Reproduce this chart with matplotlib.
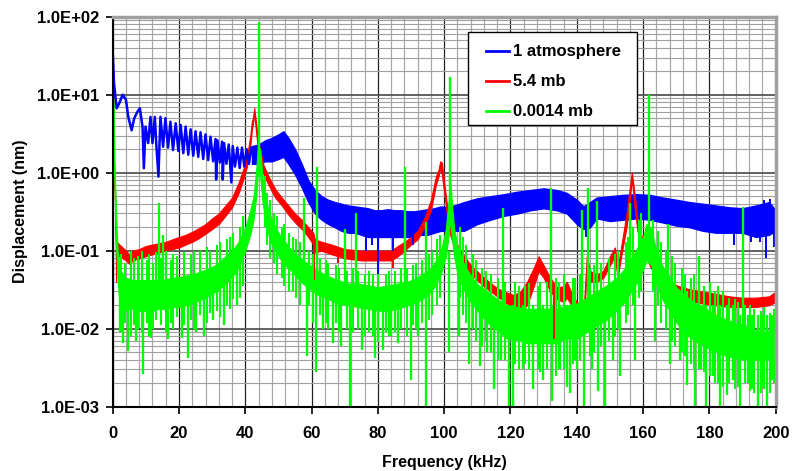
import matplotlib.pyplot as plt
import matplotlib.ticker as mticker
from matplotlib.lines import Line2D
from matplotlib.patches import Rectangle

plt.rcParams['font.family'] = ['Liberation Sans', 'DejaVu Sans']
plt.rcParams['font.weight'] = 'bold'

# ---- 1 atmosphere: low-frequency part read as a single line
blue_lf_f = [0, 0.4, 1.2, 2.0, 3.0, 4.0, 4.7, 5.7, 6.5, 7.4, 8.2, 9.0, 9.4, 9.9,
             10.7, 11.4, 12.0, 12.7, 13.2, 13.8, 14.4, 15.2, 15.9, 16.7, 17.4, 18.2,
             19.0, 19.8, 20.5, 21.3, 22.0, 22.8, 23.5, 24.3, 25.0, 25.8, 26.5, 27.3,
             28.0, 28.8, 29.5, 30.3, 31.0, 31.2, 31.6, 32.3, 33.0, 33.2, 33.6, 34.3,
             35.0, 35.8, 36.2, 36.9, 37.6, 38.3, 39.0, 39.7, 40.4, 41.1, 41.8, 42.5]
blue_lf_v = [35, 14, 6.7, 7.8, 10, 8.6, 5.2, 3.5, 5.0, 6.0, 6.7, 3.9, 1.14, 3.9,
             2.4, 5.2, 2.4, 5.2, 2.15, 0.89, 5.2, 2.15, 5.0, 2.1, 4.5, 1.95,
             4.3, 1.9, 4.1, 1.78, 3.9, 1.7, 3.6, 1.65, 3.4, 1.6, 3.3, 1.5,
             3.1, 1.45, 2.9, 1.4, 2.7, 0.82, 2.6, 1.35, 2.5, 0.82, 2.4, 1.3,
             2.3, 0.75, 2.2, 1.2, 2.1, 1.15, 2.1, 1.2, 2.0, 1.3, 2.1, 1.6]

# ---- 1 atmosphere: dense band above 42 kHz (lower / upper edge)
blue_f = [42, 44, 46, 48, 50, 51.5, 53, 55, 57, 59, 61, 63, 65, 67, 69, 71, 73, 75,
          77, 79, 81, 83, 85, 87, 89, 91, 93, 95, 97, 99, 101, 103, 106, 110, 114,
          118, 122, 126, 130, 134, 137, 140, 142, 144, 146, 150, 154, 158, 162, 166,
          170, 174, 178, 182, 186, 190, 194, 198, 200]
blue_lo = [1.3, 1.3, 1.4, 1.4, 1.5, 1.6, 1.3, 0.95, 0.65, 0.42, 0.3, 0.25, 0.22, 0.2,
           0.18, 0.17, 0.17, 0.16, 0.15, 0.15, 0.15, 0.15, 0.15, 0.15, 0.15, 0.15,
           0.16, 0.16, 0.17, 0.18, 0.18, 0.18, 0.18, 0.22, 0.25, 0.28, 0.3, 0.33,
           0.35, 0.33, 0.3, 0.22, 0.19, 0.2, 0.26, 0.24, 0.25, 0.26, 0.25, 0.23,
           0.21, 0.2, 0.18, 0.17, 0.17, 0.17, 0.15, 0.16, 0.18]
blue_hi = [2.2, 2.3, 2.6, 2.8, 3.1, 3.4, 2.8, 2.0, 1.3, 0.8, 0.6, 0.5, 0.45, 0.42,
           0.4, 0.38, 0.37, 0.36, 0.35, 0.33, 0.33, 0.34, 0.33, 0.33, 0.32, 0.32,
           0.33, 0.34, 0.35, 0.37, 0.36, 0.38, 0.42, 0.47, 0.5, 0.53, 0.57, 0.6,
           0.63, 0.6, 0.55, 0.45, 0.37, 0.42, 0.48, 0.5, 0.52, 0.53, 0.52, 0.48,
           0.45, 0.42, 0.4, 0.38, 0.36, 0.35, 0.38, 0.42, 0.33]
blue_spk_f = [76.5, 78.3, 80.0, 84.5, 90.5, 142.8, 187.5, 192.5, 195.3, 196.5, 197.2, 198.2, 199.6]
blue_spk_lo = [0.10, 0.12, 0.029, 0.10, 0.12, 0.15, 0.12, 0.13, 0.13, 0.3, 0.08, 0.3, 0.11]
blue_spk_hi = [0.2, 0.2, 0.2, 0.2, 0.2, 0.3, 0.2, 0.2, 0.2, 0.45, 0.2, 0.46, 0.2]

# ---- 5.4 mb (lower / upper edge of trace)
red_f = [0, 0.4, 0.8, 1.0, 1.3, 2, 3, 4, 5, 6, 8, 10, 12, 14, 16, 18, 20, 22, 24, 26,
         28, 30, 32, 34, 36, 38, 39.5, 40.5, 41.5, 42, 42.3, 42.7, 43.2, 43.7, 44.5,
         45.5, 47, 49, 51, 53, 55, 57, 59, 60.5, 61, 63, 66, 70, 75, 80, 84, 86, 88,
         90, 92, 94, 96, 97.5, 98.3, 98.8, 99.3, 100, 100.8, 101.8, 103, 105, 108,
         112, 116, 119, 121, 123, 125, 127, 128.5, 130, 132, 134, 136, 137, 139, 141,
         142, 143, 144, 146, 148, 150, 151.5, 152.3, 153.5, 155, 156, 156.6, 157.3,
         158.3, 160, 162, 164, 167, 170, 174, 178, 182, 186, 190, 194, 198, 200]
red_lo = [25, 1.0, 0.3, 0.04, 0.09, 0.085, 0.08, 0.075, 0.068, 0.075, 0.08, 0.085,
          0.09, 0.095, 0.1, 0.105, 0.11, 0.12, 0.13, 0.145, 0.165, 0.19, 0.22, 0.28,
          0.36, 0.55, 0.85, 1.2, 2.2, 3.6, 4.2, 5.8, 3.5, 2.2, 1.4, 0.95, 0.7, 0.48,
          0.38, 0.29, 0.23, 0.19, 0.15, 0.12, 0.095, 0.1, 0.09, 0.08, 0.075, 0.075,
          0.075, 0.085, 0.1, 0.12, 0.14, 0.2, 0.33, 0.7, 0.9, 1.15, 0.95, 0.55, 0.3,
          0.16, 0.11, 0.08, 0.05, 0.035, 0.026, 0.021, 0.018, 0.017, 0.02, 0.035,
          0.055, 0.045, 0.03, 0.024, 0.022, 0.025, 0.018, 0.015, 0.009, 0.06, 0.04,
          0.04, 0.045, 0.065, 0.085, 0.045, 0.09, 0.2, 0.45, 0.85, 0.4, 0.18, 0.1,
          0.065, 0.045, 0.034, 0.027, 0.023, 0.021, 0.02, 0.019, 0.019, 0.019, 0.02,
          0.022]
red_hi = [32, 1.4, 0.45, 0.12, 0.13, 0.12, 0.11, 0.1, 0.09, 0.1, 0.105, 0.115,
          0.12, 0.125, 0.13, 0.14, 0.15, 0.16, 0.175, 0.195, 0.22, 0.26, 0.3, 0.38,
          0.48, 0.75, 1.15, 1.6, 3.0, 4.6, 5.0, 6.8, 4.5, 3.0, 1.9, 1.25, 0.9, 0.62,
          0.48, 0.38, 0.3, 0.25, 0.2, 0.17, 0.14, 0.13, 0.12, 0.105, 0.1, 0.1,
          0.1, 0.115, 0.13, 0.15, 0.18, 0.26, 0.45, 0.9, 1.1, 1.4, 1.35, 0.75, 0.4,
          0.21, 0.14, 0.1, 0.065, 0.045, 0.033, 0.029, 0.027, 0.03, 0.04, 0.06,
          0.085, 0.065, 0.045, 0.034, 0.035, 0.04, 0.025, 0.02, 0.015, 0.085, 0.055,
          0.05, 0.055, 0.085, 0.11, 0.06, 0.12, 0.3, 0.65, 1.0, 0.6, 0.25, 0.13,
          0.085, 0.06, 0.045, 0.036, 0.032, 0.03, 0.028, 0.026, 0.025, 0.025, 0.026,
          0.03]
red_spk_f = [60.7, 68.0, 84.6, 124.5, 133.0]
red_spk_lo = [0.042, 0.07, 0.06, 0.012, 0.0073]
red_spk_hi = [0.12, 0.1, 0.09, 0.025, 0.03]

# ---- 0.0014 mb: dense core of the noisy trace
green_f = [0, 0.3, 0.6, 1.0, 1.5, 2, 3, 4, 6, 8, 10, 12, 14, 16, 18, 20, 22, 24,
           26, 28, 30, 32, 34, 36, 38, 40, 41.5, 42.5, 43.3, 43.8, 44.5, 45.2, 46, 47,
           48, 50, 52, 54, 56, 58, 60, 62, 65, 68, 71, 74, 77, 80, 83, 86, 89, 92, 95,
           97, 99, 100.5, 101.3, 101.8, 102.3, 103, 104, 106, 108, 110, 113, 116, 119,
           122, 125, 128, 131, 134, 137, 140, 143, 146, 149, 152, 154, 156, 158, 160,
           161, 162.5, 164, 166, 168, 170, 173, 176, 179, 182, 185, 188, 191, 194,
           197, 200]
green_lo = [20, 2, 0.5, 0.12, 0.04, 0.022, 0.02, 0.018, 0.018, 0.017, 0.017, 0.017,
            0.018, 0.018, 0.019, 0.019, 0.02, 0.021, 0.023, 0.025, 0.028, 0.032,
            0.038, 0.046, 0.062, 0.1, 0.16, 0.25, 0.5, 1.0, 0.9, 0.42, 0.25, 0.16,
            0.12, 0.085, 0.065, 0.055, 0.043, 0.036, 0.031, 0.027, 0.024, 0.021,
            0.02, 0.019, 0.018, 0.017, 0.017, 0.018, 0.02, 0.022, 0.027, 0.034,
            0.05, 0.085, 0.15, 0.25, 0.15, 0.085, 0.05, 0.031, 0.022, 0.017, 0.012,
            0.0095, 0.0075, 0.0072, 0.0065, 0.0065, 0.0065, 0.0065, 0.0075, 0.0075,
            0.009, 0.011, 0.013, 0.017, 0.021, 0.028, 0.038, 0.057, 0.075, 0.065,
            0.037, 0.023, 0.017, 0.012, 0.0085, 0.0068, 0.0058, 0.005, 0.0045,
            0.0042, 0.004, 0.004, 0.004, 0.0045]
green_hi = [30, 5, 1.1, 0.3, 0.1, 0.06, 0.05, 0.045, 0.042, 0.042, 0.042, 0.042,
            0.042, 0.043, 0.045, 0.046, 0.048, 0.05, 0.053, 0.057, 0.062, 0.07,
            0.085, 0.1, 0.13, 0.2, 0.33, 0.5, 1.1, 2.2, 2.0, 0.85, 0.5, 0.33, 0.25,
            0.17, 0.13, 0.1, 0.085, 0.072, 0.063, 0.055, 0.047, 0.042, 0.038, 0.038,
            0.036, 0.034, 0.036, 0.038, 0.04, 0.046, 0.055, 0.068, 0.1, 0.19, 0.42,
            0.85, 0.42, 0.19, 0.115, 0.066, 0.048, 0.037, 0.03, 0.024, 0.02, 0.019,
            0.018, 0.018, 0.018, 0.018, 0.02, 0.021, 0.025, 0.03, 0.036, 0.045,
            0.056, 0.075, 0.105, 0.15, 0.22, 0.19, 0.1, 0.062, 0.046, 0.034, 0.026,
            0.021, 0.018, 0.015, 0.013, 0.012, 0.011, 0.0095, 0.0092, 0.01]

# ---- 0.0014 mb: noise excursions (low end / high end of each stroke)
green_tex_f = [2.6, 3.8, 5.5, 6.3, 7.7, 8.8, 10.2, 10.9, 12.3, 13.2, 14.6, 16.1, 17.5,
               18.3, 19.5, 21.5, 23.7, 24.4, 26.2, 28.4, 29.3, 31.5, 32.4, 34.6, 35.5,
               36.4, 38.5, 39.4,
               45.8, 46.6, 47.5, 48.7, 49.5, 51.0, 51.8, 53.3, 54.5, 55.4, 56.6, 59.3,
               60.4, 62.5, 64.3, 65.0, 67.3, 68.2, 70.6, 72.6, 74.0, 76.0, 77.2, 78.4,
               80.0, 82.5, 83.3, 85.2, 87.0, 88.9, 90.7, 91.6, 93.2, 95.5, 96.4, 97.8,
               98.6,
               104.8, 105.6, 106.7, 108.7, 109.5, 111.5, 112.6, 114.2, 116.2, 118.3,
               121.5, 122.6, 124.3, 125.6, 128.2, 128.9, 131.0, 133.6, 134.6, 136.2,
               138.8, 139.6, 141.0, 143.9, 145.2, 147.3, 149.8, 151.6, 152.4, 154.8,
               155.4, 157.0, 158.8, 159.5,
               163.0, 164.6, 165.4, 166.8, 168.8, 169.6, 171.8, 172.6, 174.4, 175.3,
               177.0, 178.3, 180.2, 181.8, 182.6, 184.2, 186.0, 187.8, 188.6, 190.6,
               192.2, 193.6, 195.6, 196.6, 198.2, 199.6]
green_tex_lo = [0.009, 0.012, 0.008, 0.011, 0.01, 0.009, 0.012, 0.008, 0.01, 0.013,
                0.011, 0.009, 0.012, 0.01, 0.014, 0.011, 0.013, 0.01, 0.015, 0.012,
                0.016, 0.017, 0.014, 0.02, 0.018, 0.024, 0.025, 0.035,
                0.2, 0.12, 0.08, 0.07, 0.05, 0.045, 0.035, 0.03, 0.03, 0.025, 0.02,
                0.02, 0.012, 0.015, 0.012, 0.01, 0.012, 0.009, 0.01, 0.009, 0.01,
                0.008, 0.009, 0.008, 0.007, 0.009, 0.008, 0.009, 0.01, 0.008, 0.011,
                0.01, 0.012, 0.013, 0.015, 0.02, 0.025,
                0.025, 0.015, 0.012, 0.01, 0.007, 0.006, 0.007, 0.005, 0.004, 0.004,
                0.0035, 0.003, 0.0035, 0.003, 0.003, 0.0028, 0.003, 0.0025, 0.003,
                0.003, 0.0035, 0.004, 0.004, 0.0045, 0.005, 0.006, 0.007, 0.008, 0.01,
                0.012, 0.015, 0.02, 0.025, 0.03,
                0.03, 0.02, 0.012, 0.01, 0.007, 0.006, 0.005, 0.0045, 0.0035, 0.003,
                0.003, 0.0028, 0.0025, 0.002, 0.002, 0.0018, 0.002, 0.0017, 0.0018,
                0.002, 0.0016, 0.0015, 0.0015, 0.0017, 0.0015, 0.002]
green_tex_hi = [0.09, 0.07, 0.1, 0.08, 0.085, 0.1, 0.075, 0.09, 0.07, 0.095, 0.08,
                0.1, 0.075, 0.09, 0.085, 0.095, 0.09, 0.1, 0.1, 0.11, 0.1, 0.12, 0.13,
                0.14, 0.15, 0.17, 0.2, 0.28,
                0.9, 0.55, 0.45, 0.3, 0.28, 0.2, 0.22, 0.17, 0.15, 0.14, 0.13, 0.1,
                0.09, 0.08, 0.075, 0.07, 0.065, 0.06, 0.055, 0.06, 0.055, 0.05, 0.055,
                0.05, 0.05, 0.05, 0.055, 0.055, 0.06, 0.06, 0.065, 0.07, 0.075, 0.09,
                0.1, 0.14, 0.16,
                0.2, 0.15, 0.12, 0.09, 0.075, 0.06, 0.055, 0.05, 0.045, 0.04, 0.04,
                0.035, 0.035, 0.038, 0.035, 0.04, 0.04, 0.045, 0.04, 0.05, 0.045,
                0.045, 0.05, 0.06, 0.065, 0.07, 0.08, 0.09, 0.1, 0.13, 0.15, 0.2,
                0.25, 0.3,
                0.25, 0.18, 0.13, 0.1, 0.085, 0.07, 0.06, 0.05, 0.045, 0.05, 0.04,
                0.035, 0.04, 0.03, 0.035, 0.03, 0.025, 0.024, 0.022, 0.02, 0.02,
                0.018, 0.017, 0.019, 0.016, 0.018]

# ---- 0.0014 mb: sharp resonance lines and deep drop-outs
green_spk_f = [44.1, 101.9, 161.8, 13.9, 15.1, 57.8, 61.5, 70.0, 73.3, 88.2, 94.4,
               117.7, 132.2, 141.6, 143.4, 146.0, 156.0, 167.5, 176.8, 190.0,
               2.2, 3.2, 4.7, 7.0, 9.2, 11.5, 16.8, 20.8, 22.8, 25.0, 27.5, 30.4,
               33.5, 37.4, 58.5, 61.3, 63.5, 66.5, 69.0, 71.6, 75.1, 79.1, 81.6,
               84.0, 86.0, 89.9, 92.0, 94.5, 101.3, 104.5, 107.4, 110.8, 113.0,
               115.1, 117.0, 119.5, 120.8, 123.8, 126.9, 129.9, 132.5, 135.0,
               136.9, 137.9, 140.0, 142.2, 144.5, 146.4, 148.5, 151.0, 153.0,
               157.6, 163.5, 168.1, 171.0, 173.2, 175.7, 177.5, 179.0, 181.0,
               183.2, 185.2, 187.0, 189.2, 191.5, 193.0, 194.7, 196.0, 197.3, 199.0]
green_spk_lo = [1.0, 0.3, 0.15, 0.03, 0.03, 0.05, 0.04, 0.03, 0.03, 0.03, 0.04,
                0.015, 0.015, 0.015, 0.02, 0.02, 0.05, 0.04, 0.015, 0.008,
                0.009, 0.0065, 0.0052, 0.007, 0.0026, 0.0077, 0.0074, 0.0077, 0.0042,
                0.009, 0.008, 0.013, 0.011, 0.02, 0.0045, 0.0028, 0.01, 0.0065,
                0.006, 0.001, 0.0053, 0.0042, 0.0053, 0.008, 0.0065, 0.0022, 0.008,
                0.001, 0.005, 0.008, 0.0035, 0.0033, 0.005, 0.0017, 0.004, 0.001,
                0.001, 0.003, 0.0017, 0.0022, 0.0012, 0.003, 0.0018, 0.0015, 0.003,
                0.001, 0.003, 0.0016, 0.001, 0.004, 0.0025, 0.004, 0.007, 0.0035,
                0.004, 0.0019, 0.001, 0.003, 0.001, 0.0025, 0.001, 0.0014, 0.0022,
                0.001, 0.002, 0.0017, 0.001, 0.0018, 0.001, 0.0022]
green_spk_hi = [86, 17, 10, 0.41, 0.16, 0.47, 1.2, 0.19, 0.3, 1.2, 0.23,
                0.35, 0.64, 0.33, 0.64, 0.44, 0.41, 0.22, 0.085, 0.36,
                0.03, 0.03, 0.03, 0.03, 0.03, 0.03, 0.03, 0.03, 0.03,
                0.03, 0.03, 0.04, 0.05, 0.08, 0.05, 0.04, 0.04, 0.035,
                0.03, 0.03, 0.03, 0.03, 0.03, 0.03, 0.03, 0.03, 0.03,
                0.04, 0.1, 0.05, 0.04, 0.03, 0.02, 0.02, 0.02, 0.02,
                0.02, 0.02, 0.02, 0.02, 0.02, 0.02, 0.02, 0.02, 0.02,
                0.02, 0.02, 0.03, 0.03, 0.03, 0.04, 0.05, 0.05, 0.03,
                0.03, 0.03, 0.02, 0.02, 0.02, 0.02, 0.02, 0.02, 0.02,
                0.015, 0.015, 0.015, 0.015, 0.015, 0.015, 0.015]

x_ticks = [0, 20, 40, 60, 80, 100, 120, 140, 160, 180, 200]
series_names = ['1 atmosphere', '5.4 mb', '0.0014 mb']
series_colors = ['#0000ff', '#ff0000', '#00ff00']

fig = plt.figure(figsize=(7.92, 4.71), dpi=100)
ax = fig.add_axes([0.1423, 0.1365, 0.8371, 0.828])
ax.set_yscale('log')

# 1 atmosphere
ax.plot(blue_lf_f, blue_lf_v, color=series_colors[0], lw=1.8)
ax.fill_between(blue_f, blue_lo, blue_hi, color=series_colors[0], lw=1.0)
ax.vlines(blue_spk_f, blue_spk_lo, blue_spk_hi, color=series_colors[0], lw=1.4)

# 5.4 mb
ax.fill_between(red_f, red_lo, red_hi, color=series_colors[1], lw=0.8)
ax.vlines(red_spk_f, red_spk_lo, red_spk_hi, color=series_colors[1], lw=1.4)

# 0.0014 mb
ax.fill_between(green_f, green_lo, green_hi, color=series_colors[2], lw=0.8)
ax.vlines(green_tex_f, green_tex_lo, green_tex_hi, color=series_colors[2], lw=1.5)
ax.vlines(green_spk_f, green_spk_lo, green_spk_hi, color=series_colors[2], lw=1.7)

ax.set_xlim(0, 200)
ax.set_ylim(1e-3, 1e2)
ax.set_xticks(x_ticks)
ax.xaxis.set_minor_locator(mticker.MultipleLocator(4))
ax.yaxis.set_major_locator(mticker.LogLocator(base=10, numticks=10))
ax.yaxis.set_minor_locator(mticker.LogLocator(base=10, subs=range(2, 10), numticks=20))
ax.yaxis.set_major_formatter(mticker.FuncFormatter(lambda v, p: f"{v:.1E}"))
ax.yaxis.set_minor_formatter(mticker.NullFormatter())

ax.grid(True, which='major', axis='x', color='#222222', lw=0.9)
ax.grid(True, which='minor', axis='x', color='#a8a8a8', lw=0.9)
ax.grid(True, which='major', axis='y', color='#555555', lw=1.3)
ax.grid(True, which='minor', axis='y', color='#a0a0a0', lw=0.8)
ax.set_axisbelow(True)

ax.tick_params(which='major', length=5, width=1.2, labelsize=12, pad=9)
ax.tick_params(axis='y', which='major', pad=5)
ax.tick_params(which='minor', length=0)

for side in ['top', 'right']:
    ax.spines[side].set_color('#a0a0a0')
    ax.spines[side].set_linewidth(2.5)
for side in ['left', 'bottom']:
    ax.spines[side].set_color('black')
    ax.spines[side].set_linewidth(1.5)

ax.set_xlabel('Frequency (kHz)', fontsize=11.5, fontweight='bold', labelpad=10)
ax.set_ylabel('Displacement (nm)', fontsize=11.5, fontweight='bold', labelpad=6)

# legend: white box drawn separately, entries placed inside it
ax.add_patch(Rectangle((0.5354, 0.7223), 0.2559, 0.2377, transform=ax.transAxes,
                       facecolor='white', edgecolor='black', lw=1.0, zorder=4))
handles = [Line2D([], [], color=c, lw=2) for c in series_colors]
leg = ax.legend(handles, series_names, loc='upper left', bbox_to_anchor=(0.5634, 0.929),
                fontsize=12, frameon=False, handlelength=1.35, handletextpad=0.25,
                labelspacing=0.9, borderpad=0, borderaxespad=0)
leg.set_zorder(5)

fig.savefig('out.png', dpi=100)
